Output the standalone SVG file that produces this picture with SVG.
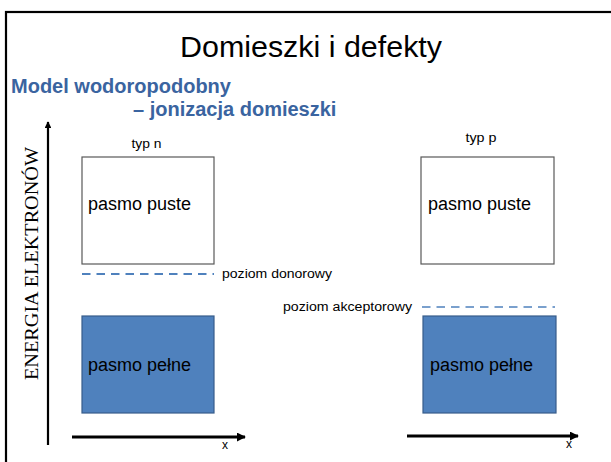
<svg xmlns="http://www.w3.org/2000/svg" width="611" height="462" viewBox="0 0 611 462">
  <style>
    .sans { font-family: "Liberation Sans", Arial, sans-serif; fill: #000; }
    .head { font-family: "Liberation Sans", Arial, sans-serif; font-weight: bold; font-size: 20px; fill: #3A64A0; }
    .band-empty { fill: #FFFFFF; stroke: #595959; stroke-width: 1.2; }
    .band-full { fill: #4F81BD; stroke: #385D8A; stroke-width: 1.2; }
    .band-label { font-family: "Liberation Sans", Arial, sans-serif; font-size: 18px; fill: #000; }
    .small { font-family: "Liberation Sans", Arial, sans-serif; font-size: 12px; fill: #000; }
    .level { fill: none; stroke: #4F81BD; stroke-dasharray: 8.5 6; }
    .axis { fill: none; stroke: #000; }
  </style>
  <defs>
    <marker id="arrow" viewBox="0 0 10 10" refX="9" refY="5" markerWidth="3" markerHeight="3" orient="auto" markerUnits="strokeWidth">
      <path d="M0,0 L10,5 L0,10 z" fill="#000"/>
    </marker>
  </defs>

  <!-- slide frame -->
  <rect x="6" y="12" width="620" height="470" fill="none" stroke="#000" stroke-width="2.2"/>

  <!-- title and heading -->
  <text class="sans" x="180" y="57" font-size="30" textLength="262" lengthAdjust="spacingAndGlyphs">Domieszki i defekty</text>
  <text class="head" x="11" y="93">Model wodoropodobny</text>
  <text class="head" x="133" y="116">– jonizacja domieszki</text>

  <!-- energy axis label -->
  <text x="38" y="263.5" transform="rotate(-90 38 263.5)" text-anchor="middle" font-family="'Liberation Serif', 'Times New Roman', serif" font-size="19" fill="#000" textLength="233" lengthAdjust="spacingAndGlyphs">ENERGIA ELEKTRONÓW</text>

  <!-- type labels -->
  <text class="small" x="146.5" y="148" text-anchor="middle" font-size="13" textLength="30" lengthAdjust="spacingAndGlyphs">typ n</text>
  <text class="small" x="481" y="142" text-anchor="middle" font-size="13" textLength="31" lengthAdjust="spacingAndGlyphs">typ p</text>

  <!-- n-type: conduction band -->
  <g id="n-empty">
    <rect class="band-empty" x="82" y="157" width="132" height="107"/>
    <text class="band-label" x="88" y="210">pasmo puste</text>
  </g>

  <!-- n-type: donor level -->
  <g id="n-donor">
    <line class="level" x1="82" y1="274" x2="214" y2="274" stroke-width="2"/>
    <text class="small" x="222" y="278" font-size="13" textLength="110" lengthAdjust="spacingAndGlyphs">poziom donorowy</text>
  </g>

  <!-- n-type: valence band -->
  <g id="n-full">
    <rect class="band-full" x="82" y="316" width="132" height="97"/>
    <text class="band-label" x="88" y="371">pasmo pełne</text>
  </g>

  <!-- p-type: conduction band -->
  <g id="p-empty">
    <rect class="band-empty" x="421" y="157" width="133" height="107"/>
    <text class="band-label" x="428" y="210">pasmo puste</text>
  </g>

  <!-- p-type: acceptor level -->
  <g id="p-acceptor">
    <line class="level" x1="422" y1="307" x2="555" y2="307" stroke-width="1.5" stroke="#6A93CC"/>
    <text class="small" x="283" y="311" font-size="13" textLength="129" lengthAdjust="spacingAndGlyphs">poziom akceptorowy</text>
  </g>

  <!-- p-type: valence band -->
  <g id="p-full">
    <rect class="band-full" x="423" y="316" width="133" height="97"/>
    <text class="band-label" x="430" y="371">pasmo pełne</text>
  </g>

  <!-- axes -->
  <g id="axes">
    <line class="axis" x1="48" y1="445" x2="48" y2="122" stroke-width="2.2" marker-end="url(#arrow)"/>
    <line class="axis" x1="72" y1="437" x2="245" y2="437" stroke-width="3" marker-end="url(#arrow)"/>
    <line class="axis" x1="407" y1="436" x2="578" y2="436" stroke-width="3" marker-end="url(#arrow)"/>
    <text class="small" x="225" y="449" text-anchor="middle">x</text>
    <text class="small" x="569" y="448" text-anchor="middle">x</text>
  </g>
</svg>
